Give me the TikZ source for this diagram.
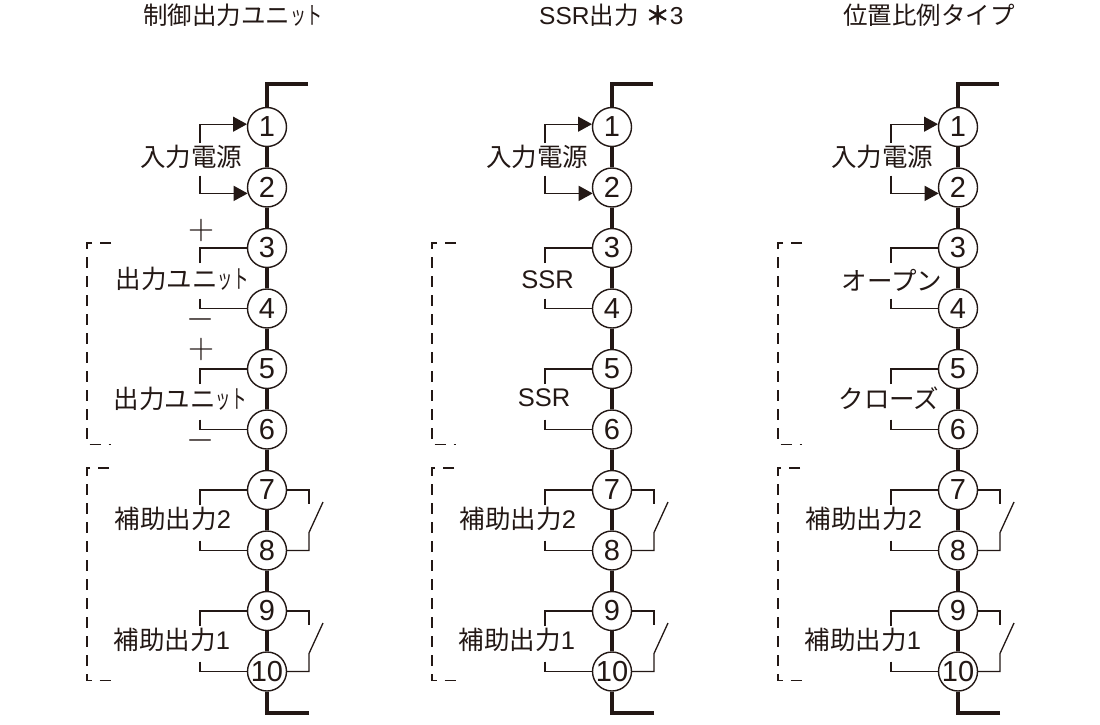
\documentclass[tikz,border=0pt]{standalone}
\usepackage{fontspec}
\setmainfont{Liberation Sans}
\newfontfamily\jp{Noto Sans CJK JP}
\newfontfamily\jpheavy[FakeBold=3]{Noto Sans CJK JP}
\usepackage{graphicx}
\usetikzlibrary{arrows.meta}
\definecolor{ink}{RGB}{35,24,21}
\begin{document}
\begin{tikzpicture}[x=1pt,y=-1pt,
  term/.style={circle,draw=ink,line width=1.4pt,fill=white,minimum size=39pt,inner sep=0pt,text=ink,font=\fontsize{29}{29}\selectfont},
  spine/.style={draw=ink,line width=3.3pt},
  wire/.style={draw=ink,line width=1.3pt},
  dashbox/.style={draw=ink,line width=1.4pt,dash pattern=on 11pt off 8pt},
  lbl/.style={text=ink,inner sep=0pt,font=\fontsize{25.5}{30}\selectfont},
  ttl/.style={text=ink,inner sep=0pt,anchor=west,font=\fontsize{24.5}{30}\selectfont},
  sgn/.style={text=ink,inner sep=0pt,font=\fontsize{24}{24}\selectfont},
  arrowin/.style={-{Triangle[length=14pt,width=15pt]}}]
\fill[white] (0,0) rectangle (1100,725);
\useasboundingbox (0,0) rectangle (1100,725);
% titles
\node[ttl] (title1) at (143,15) {{\jp 制御出力ユニ\scalebox{0.65}[1]{ット}}};
\node[ttl] (title2) at (539,15) {SSR{\jp 出力} {\jpheavy ＊}3};
\node[ttl] (title3) at (843,15) {{\jp 位置比例タイプ}};
% columns
\foreach \col/\X in {1/267,2/612,3/958} {
  \foreach \i/\Y in {1/127,2/187.5,3/248,4/308.5,5/369,6/429.5,7/490,8/550.5,9/611,10/671.5}
    \node[term] (t\col-\i) at (\X,\Y) {\i};
  \coordinate (top\col) at (\X+41,84);
  \coordinate (bot\col) at (\X+42,713);
  \draw[spine] (top\col) -| (t\col-1);
  \draw[spine] (bot\col) -| (t\col-10);
  \foreach \i/\j in {1/2,2/3,3/4,4/5,5/6,6/7,7/8,8/9,9/10}
    \draw[spine] (t\col-\i) -- (t\col-\j);
  % input power arrows
  \coordinate (a\col-1) at (\X-67,143);
  \draw[wire,arrowin] (a\col-1) |- (t\col-1.172);
  \coordinate (a\col-2) at (\X-67,175.5);
  \draw[wire,arrowin] (a\col-2) |- (t\col-2.197);
  % left brackets
  \foreach \i/\Y in {3/263,4/298.5,5/384,6/419.5,7/505,8/540.5,9/626,10/661.5} {
    \coordinate (b\col-\i) at (\X-67,\Y);
    \draw[wire] (b\col-\i) |- (t\col-\i);
  }
  % relay contacts
  \foreach \u/\l/\Yu/\Yl in {7/8/490/550.5,9/10/611/671.5} {
    \coordinate (su\col-\u) at (\X+42,\Yu+14);
    \coordinate (sb\col-\u) at (\X+42,\Yl-18);
    \coordinate (sq\col-\u) at (\X+56,\Yu+12);
    \draw[wire] (t\col-\u) -| (su\col-\u);
    \draw[wire] (sq\col-\u) -- (sb\col-\u) |- (t\col-\l);
  }
  % dashed brackets
  \coordinate (da\col) at (\X-156,243);
  \coordinate (db\col) at (\X-180,444.5);
  \coordinate (dc\col) at (\X-156,444.5);
  \draw[dashbox] (da\col) -| (db\col) -- (dc\col);
  \coordinate (de\col) at (\X-158,468);
  \coordinate (df\col) at (\X-180,680.5);
  \coordinate (dg\col) at (\X-155,680.5);
  \draw[dashbox] (de\col) -| (df\col) -- (dg\col);
}
% labels column 1
\node[lbl] (in1) at (191,157) {{\jp 入力電源}};
\node[lbl] (ou1a) at (182,279) {{\jp 出力ユニ\scalebox{0.6}[1]{ット}}};
\node[lbl] (ou1b) at (180,399) {{\jp 出力ユニ\scalebox{0.6}[1]{ット}}};
\node[lbl] (ax1b) at (173,519) {{\jp 補助出力}2};
\node[lbl] (ax1a) at (172,640) {{\jp 補助出力}1};
\node[sgn] (p3) at (201,230) {\scalebox{1.45}{$+$}};
\node[sgn] (m4) at (201,319.5) {\scalebox{1.45}{$-$}};
\node[sgn] (p5) at (201,349) {\scalebox{1.45}{$+$}};
\node[sgn] (m6) at (201,440.5) {\scalebox{1.45}{$-$}};
% labels column 2
\node[lbl] (in2) at (537,157) {{\jp 入力電源}};
\node[lbl] (ss2a) at (547.5,280) {SSR};
\node[lbl] (ss2b) at (544,398) {SSR};
\node[lbl] (ax2b) at (518,519) {{\jp 補助出力}2};
\node[lbl] (ax2a) at (517,640) {{\jp 補助出力}1};
% labels column 3
\node[lbl] (in3) at (882,157) {{\jp 入力電源}};
\node[lbl] (op3) at (892,280) {{\jp オープン}};
\node[lbl] (cl3) at (889,398) {{\jp クローズ}};
\node[lbl] (ax3b) at (864,519) {{\jp 補助出力}2};
\node[lbl] (ax3a) at (863,640) {{\jp 補助出力}1};
\end{tikzpicture}
\end{document}
